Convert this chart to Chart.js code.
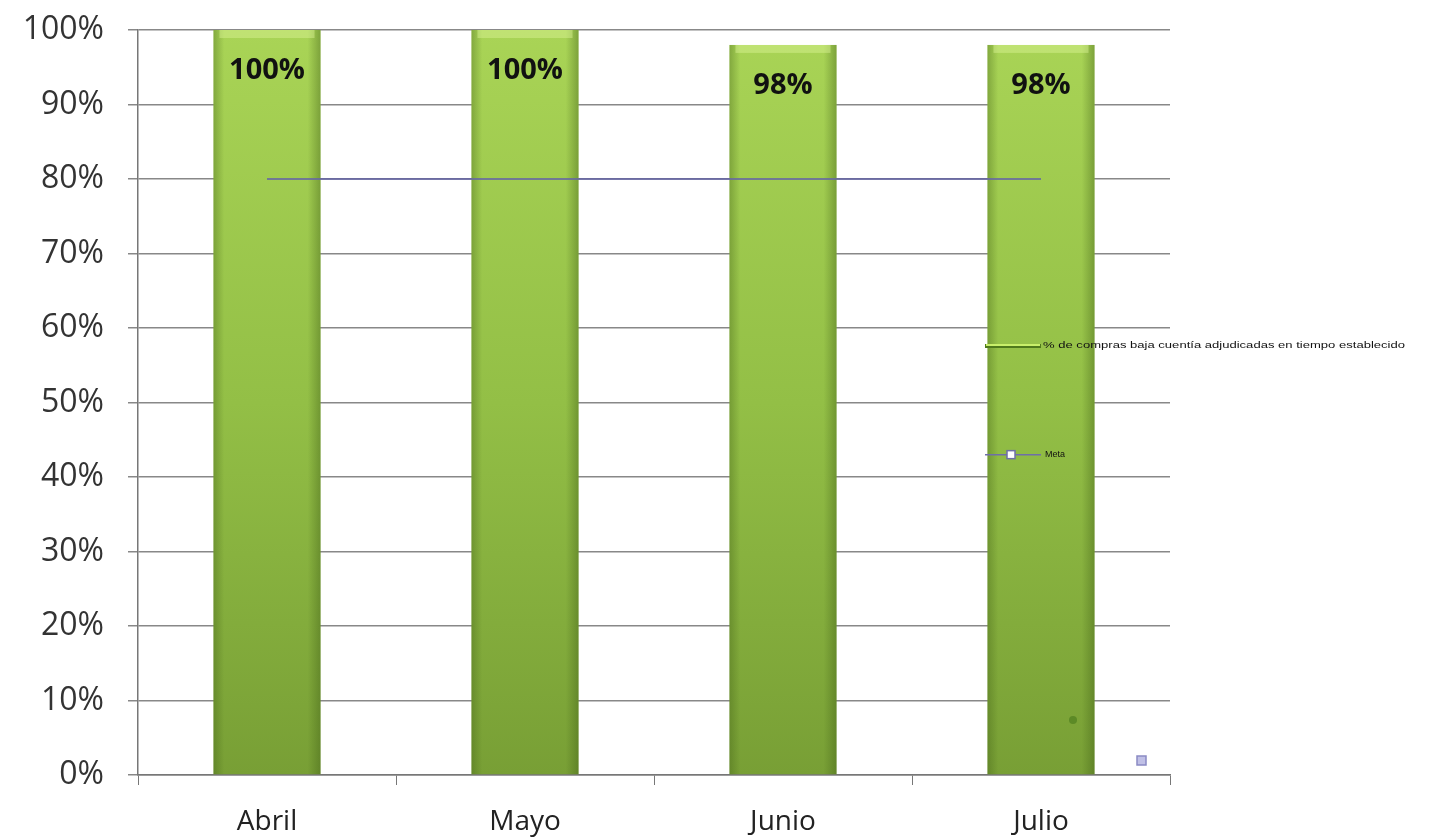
<!DOCTYPE html>
<html>
<head>
<meta charset="utf-8">
<script src="https://cdn.jsdelivr.net/npm/chart.js@4/dist/chart.umd.min.js"></script>
<style>
    body { margin: 0; background: #fff; }
    #chart { display: block; }
</style>
</head>
<body>
<canvas id="chart" width="1437" height="838"></canvas>
<script>
const months = ['Abril', 'Mayo', 'Junio', 'Julio'];
const compras = [100, 100, 98, 98];
const meta = [80, 80, 80, 80];
const comprasLabel = '% de compras baja cuentía adjudicadas en tiempo establecido';
const metaLabel = 'Meta';

// bar fill: light green at top, darker at bottom
function barFill(ctx) {
    const area = ctx.chart.chartArea;
    if (!area) return '#94c044';
    const g = ctx.chart.ctx.createLinearGradient(0, area.top, 0, area.bottom);
    g.addColorStop(0, '#a9d456');
    g.addColorStop(0.5, '#93bf46');
    g.addColorStop(1, '#789f35');
    return g;
}

// darker side edges and light bevel on top of every bar
const barShade = {
    id: 'barShade',
    afterDatasetDraw(chart, args) {
        if (args.index !== 0) return;
        const c = chart.ctx;
        args.meta.data.forEach(bar => {
            const left = bar.x - bar.width / 2;
            const right = bar.x + bar.width / 2;
            const g = c.createLinearGradient(left, 0, right, 0);
            g.addColorStop(0, 'rgba(60,90,20,0.35)');
            g.addColorStop(0.1, 'rgba(60,90,20,0)');
            g.addColorStop(0.88, 'rgba(60,90,20,0)');
            g.addColorStop(1, 'rgba(60,90,20,0.4)');
            c.save();
            c.fillStyle = g;
            c.fillRect(left, bar.y, bar.width, bar.base - bar.y);
            c.fillStyle = 'rgba(220,245,150,0.45)';
            c.fillRect(left + 6, bar.y, bar.width - 12, 8);
            c.restore();
        });
    }
};

// value labels inside the top of the bars
const valueLabels = {
    id: 'valueLabels',
    afterDatasetsDraw(chart) {
        const c = chart.ctx;
        const bars = chart.getDatasetMeta(0).data;
        c.save();
        c.font = 'bold 29px "Open Sans", Lato, sans-serif';
        c.fillStyle = '#111';
        c.textAlign = 'center';
        c.textBaseline = 'middle';
        bars.forEach((bar, i) => {
            c.fillText(compras[i] + '%', bar.x, bar.y + 41);
        });
        c.restore();
    }
};

// legend sits loose inside the plot, over the last bar
const looseLegend = {
    id: 'looseLegend',
    afterDraw(chart) {
        const c = chart.ctx;
        const a = chart.chartArea;
        const x0 = a.right - 185;
        const y1 = a.top + a.height * 0.424;
        const y2 = a.top + a.height * 0.57;
        c.save();
        c.lineWidth = 4;
        c.strokeStyle = '#4f7a1c';
        c.beginPath(); c.moveTo(x0, y1); c.lineTo(x0 + 56, y1); c.stroke();
        c.lineWidth = 2;
        c.strokeStyle = '#c8ef6a';
        c.beginPath(); c.moveTo(x0 + 1, y1 - 1); c.lineTo(x0 + 55, y1 - 1); c.stroke();
        c.font = '9px "Liberation Sans", Arial, sans-serif';
        c.fillStyle = '#111';
        c.textBaseline = 'middle';
        // the long label is stretched sideways in the original
        c.save();
        c.translate(x0 + 58, y1);
        c.scale(1.45, 1.05);
        c.fillText(comprasLabel, 0, 0);
        c.restore();

        c.lineWidth = 1.5;
        c.strokeStyle = '#6e6ea8';
        c.beginPath(); c.moveTo(x0, y2); c.lineTo(x0 + 56, y2); c.stroke();
        c.fillStyle = '#fff';
        c.fillRect(x0 + 22, y2 - 4, 8, 8);
        c.strokeRect(x0 + 22, y2 - 4, 8, 8);
        c.fillStyle = '#111';
        c.fillText(metaLabel, x0 + 60, y2);

        // leftover legend specks near the bottom right
        c.fillStyle = '#5c8a26';
        c.beginPath(); c.arc(a.right - 97, a.bottom - 55, 4, 0, Math.PI * 2); c.fill();
        c.fillStyle = '#c0c0e6';
        c.strokeStyle = '#8a8ac4';
        c.lineWidth = 1.5;
        c.fillRect(a.right - 33, a.bottom - 19, 9, 9);
        c.strokeRect(a.right - 33, a.bottom - 19, 9, 9);
        c.restore();
    }
};

new Chart(document.getElementById('chart'), {
    type: 'bar',
    data: {
        labels: months,
        datasets: [{
            label: comprasLabel,
            data: compras,
            backgroundColor: barFill,
            borderWidth: 0,
            categoryPercentage: 1,
            barPercentage: 0.415,
            order: 1
        }, {
            type: 'line',
            label: metaLabel,
            data: meta,
            borderColor: 'rgba(100,100,165,0.8)',
            borderWidth: 2,
            pointRadius: 0,
            order: 0
        }]
    },
    options: {
        responsive: false,
        animation: false,
        layout: {
            padding: { top: 30, right: 267, bottom: 0, left: 0 }
        },
        plugins: {
            legend: { display: false },
            tooltip: { enabled: false }
        },
        scales: {
            x: {
                offset: true,
                grid: {
                    drawOnChartArea: false,
                    drawTicks: true,
                    tickLength: 10,
                    color: '#777',
                    offset: true
                },
                border: { color: '#777', width: 1.5 },
                ticks: {
                    color: '#222',
                    font: { family: '"Open Sans", Lato, sans-serif', size: 28 },
                    padding: 20
                },
                afterFit(scale) {
                    scale.height = 63;
                    scale.paddingLeft = 0;
                    scale.paddingRight = 0;
                }
            },
            y: {
                min: 0,
                max: 100,
                ticks: {
                    stepSize: 10,
                    color: '#333',
                    padding: 24,
                    font: { family: '"Open Sans", Lato, sans-serif', size: 32 },
                    callback: v => v + '%'
                },
                grid: {
                    color: '#888',
                    lineWidth: 1.5,
                    tickLength: 10
                },
                border: { color: '#777', width: 1.5 },
                afterFit(scale) {
                    scale.width = 138;
                    scale.paddingTop = 0;
                    scale.paddingBottom = 0;
                }
            }
        }
    },
    plugins: [barShade, valueLabels, looseLegend]
});
</script>
</body>
</html>
